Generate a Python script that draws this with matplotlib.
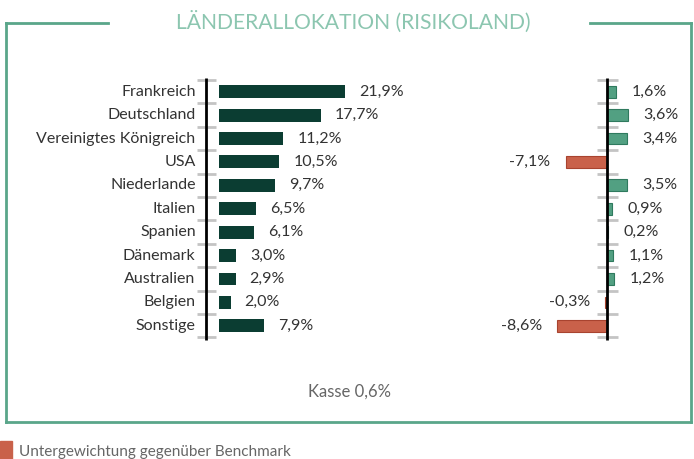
import matplotlib.pyplot as plt
from matplotlib.patches import Rectangle
from matplotlib.lines import Line2D

plt.rcParams['font.family'] = ['Lato', 'DejaVu Sans']

# data
laender = ['Frankreich', 'Deutschland', 'Vereinigtes Königreich', 'USA', 'Niederlande',
           'Italien', 'Spanien', 'Dänemark', 'Australien', 'Belgien', 'Sonstige']
gewicht = [21.9, 17.7, 11.2, 10.5, 9.7, 6.5, 6.1, 3.0, 2.9, 2.0, 7.9]
abweichung = [1.6, 3.6, 3.4, -7.1, 3.5, 0.9, 0.2, 1.1, 1.2, -0.3, -8.6]
kasse = 0.6

W, H = 694, 459
dark = '#0b3d32'
green = '#52a082'
red = '#c9614a'
txt = '#333333'
tickgray = '#c4c4c4'
frame = '#5aa68a'

fig = plt.figure(figsize=(W / 100, H / 100), dpi=100)

def fmt(v):
    return f'{v:.1f}%'.replace('.', ',')

y = list(range(len(laender)))
top_px, bot_px = 73, 348
ylim = (10.5 + (bot_px - 337.5) / 23.4, -0.5 - (80 - top_px) / 23.4)

# left chart: absolute weights
lx0, lx1, lorig, lscale = 196, 420, 219, 5.75
ax1 = fig.add_axes([lx0 / W, (H - bot_px) / H, (lx1 - lx0) / W, (bot_px - top_px) / H])
ax1.set_xlim((lx0 - lorig) / lscale, (lx1 - lorig) / lscale)
ax1.set_ylim(*ylim)
ax1.barh(y, gewicht, height=0.55, color=dark)
ax1.hlines([i - 0.5 for i in range(len(laender) + 1)], (197 - lorig) / lscale,
           (216 - lorig) / lscale, color=tickgray, lw=2)
ax1.vlines((206 - lorig) / lscale, -0.6, 10.6, color='black', lw=2)
for i, v in enumerate(gewicht):
    ax1.annotate(fmt(v), (v, i), xytext=(10, 0), textcoords='offset points',
                 va='center', ha='left', fontsize=11.5, color=txt)
    ax1.annotate(laender[i], ((197 - lorig) / lscale, i), xytext=(-1, 0),
                 textcoords='offset points', va='center', ha='right',
                 fontsize=11.5, color=txt)
ax1.axis('off')

# right chart: deviation from benchmark
rx0, rx1, rorig, rscale = 530, 690, 607, 5.8
ax2 = fig.add_axes([rx0 / W, (H - bot_px) / H, (rx1 - rx0) / W, (bot_px - top_px) / H])
ax2.set_xlim((rx0 - rorig) / rscale, (rx1 - rorig) / rscale)
ax2.set_ylim(*ylim)
cols = [green if v >= 0 else red for v in abweichung]
edges = ['#2f7a5e' if v >= 0 else '#a8432f' for v in abweichung]
ax2.barh(y, abweichung, height=0.5, color=cols, edgecolor=edges, lw=0.8)
ax2.hlines([i - 0.5 for i in range(len(laender) + 1)], (597 - rorig) / rscale,
           (618 - rorig) / rscale, color=tickgray, lw=2)
ax2.vlines(0, -0.6, 10.6, color='black', lw=2)
for i, v in enumerate(abweichung):
    if v >= 0:
        ax2.annotate(fmt(v), (v, i), xytext=(11, 0), textcoords='offset points',
                     va='center', ha='left', fontsize=11.5, color=txt)
    else:
        ax2.annotate(fmt(v), (v, i), xytext=(-11, 0), textcoords='offset points',
                     va='center', ha='right', fontsize=11.5, color=txt)
ax2.axis('off')

# frame and title
def fx(p):
    return p / W

def fy(p):
    return 1 - p / H

for xs, ys in [([6, 108], [23, 23]), ([590, 691], [23, 23]), ([6, 6], [23, 422]),
               ([691, 691], [23, 422]), ([6, 691], [422, 422])]:
    fig.add_artist(Line2D([fx(a) for a in xs], [fy(b) for b in ys], color=frame, lw=2))

fig.text(fx(353), fy(22), 'LÄNDERALLOKATION (RISIKOLAND)', ha='center', va='center',
         fontsize=15.2, color='#8cc6b0')
fig.text(fx(349), fy(392), f'Kasse {fmt(kasse)}', ha='center', va='center',
         fontsize=12, color='#666666')

fig.add_artist(Rectangle((0, 0), fx(12), 18 / H, color=red, transform=fig.transFigure))
fig.text(fx(19), fy(452), 'Untergewichtung gegenüber Benchmark', ha='left', va='center',
         fontsize=11, color='#666666')

fig.savefig('out.png', dpi=100)
